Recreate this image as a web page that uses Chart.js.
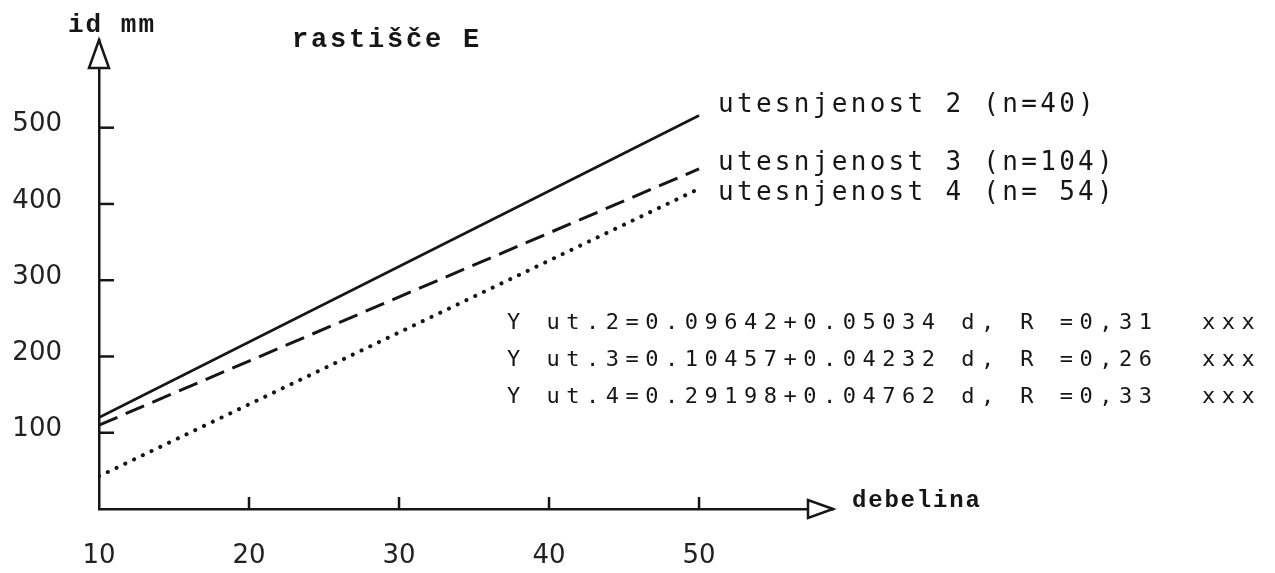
<!DOCTYPE html>
<html>
<head>
<meta charset="utf-8">
<script src="https://cdn.jsdelivr.net/npm/chart.js@4/dist/chart.umd.min.js"></script>
<style>
  html, body { margin: 0; padding: 0; background: #fff; }
</style>
</head>
<body>
<canvas id="chart" width="1275" height="573"></canvas>
<script>
// podatki (odčitani s slike)
const debelina = [10, 50];
const ut2 = [120, 516];
const ut3 = [110, 446];
const ut4 = [43, 420];

const xTicks = [10, 20, 30, 40, 50];
const yTicks = [100, 200, 300, 400, 500];

const legendLabels = ['utesnjenost 2 (n=40)', 'utesnjenost 3 (n=104)', 'utesnjenost 4 (n= 54)'];
const equations = [
    'Y ut.2=0.09642+0.05034 d, R =0,31',
    'Y ut.3=0.10457+0.04232 d, R =0,26',
    'Y ut.4=0.29198+0.04762 d, R =0,33'
];
const signif = ['xxx', 'xxx', 'xxx'];

const INK = '#161616';

function toPoints(ys) {
    return debelina.map((d, i) => ({ x: d, y: ys[i] }));
}

function drawText(ctx, text, x, y, font, spacing) {
    ctx.save();
    ctx.font = font;
    ctx.letterSpacing = spacing + 'px';
    ctx.fillStyle = INK;
    ctx.textAlign = 'left';
    ctx.textBaseline = 'alphabetic';
    ctx.fillText(text, x, y);
    ctx.restore();
}

// puščice, kratke oznake na oseh in besedila
const decorPlugin = {
    id: 'decor',
    afterDraw(chart) {
        const ctx = chart.ctx;
        const xs = chart.scales.x;
        const ys = chart.scales.y;
        const area = chart.chartArea;

        ctx.save();
        ctx.strokeStyle = INK;
        ctx.lineWidth = 2.5;

        // oznake na y osi (navznoter)
        yTicks.forEach(v => {
            const py = ys.getPixelForValue(v);
            ctx.beginPath();
            ctx.moveTo(area.left, py);
            ctx.lineTo(area.left + 15, py);
            ctx.stroke();
        });
        // oznake na x osi
        xTicks.slice(1).forEach(v => {
            const px = xs.getPixelForValue(v);
            ctx.beginPath();
            ctx.moveTo(px, area.bottom);
            ctx.lineTo(px, area.bottom - 12);
            ctx.stroke();
        });

        // puščica y
        ctx.fillStyle = '#fff';
        ctx.beginPath();
        ctx.moveTo(area.left, area.top);
        ctx.lineTo(area.left - 10, area.top + 28);
        ctx.lineTo(area.left + 10, area.top + 28);
        ctx.closePath();
        ctx.fill();
        ctx.stroke();

        // puščica x
        ctx.beginPath();
        ctx.moveTo(area.right, area.bottom);
        ctx.lineTo(area.right - 25, area.bottom - 9);
        ctx.lineTo(area.right - 25, area.bottom + 9);
        ctx.closePath();
        ctx.fill();
        ctx.stroke();
        ctx.restore();

        // besedila
        drawText(ctx, 'id mm', 68, 32, 'bold 26px "Liberation Mono"', 2);
        drawText(ctx, 'rastišče E', 292, 47, 'bold 27px "Liberation Mono"', 2.8);
        drawText(ctx, 'debelina', 852, 507, 'bold 24px "Liberation Mono"', 1.8);

        const legendY = [112, 170, 200];
        legendLabels.forEach((t, i) => {
            drawText(ctx, t, 718, legendY[i], '26px "DejaVu Sans Mono"', 3.3);
        });

        const eqY = [329, 366, 403];
        equations.forEach((t, i) => {
            drawText(ctx, t, 507, eqY[i], '22px "DejaVu Sans Mono"', 6.5);
            drawText(ctx, signif[i], 1202, eqY[i], '22px "DejaVu Sans Mono"', 6.5);
        });
    }
};

const ctx = document.getElementById('chart').getContext('2d');

new Chart(ctx, {
    type: 'line',
    data: {
        datasets: [
            {
                label: legendLabels[0],
                data: toPoints(ut2),
                borderColor: INK,
                borderWidth: 2.6,
                pointRadius: 0,
                fill: false
            },
            {
                label: legendLabels[1],
                data: toPoints(ut3),
                borderColor: INK,
                borderWidth: 3,
                borderDash: [20, 9],
                pointRadius: 0,
                fill: false
            },
            {
                label: legendLabels[2],
                data: toPoints(ut4),
                borderColor: INK,
                borderWidth: 4,
                borderDash: [0.1, 9.6],
                borderCapStyle: 'round',
                pointRadius: 0,
                fill: false
            }
        ]
    },
    options: {
        responsive: false,
        animation: false,
        devicePixelRatio: 1,
        layout: {
            padding: { left: 0, right: 442, top: 40, bottom: 0 }
        },
        plugins: {
            legend: { display: false },
            tooltip: { enabled: false }
        },
        scales: {
            x: {
                type: 'linear',
                min: 10,
                max: 58.93,
                afterBuildTicks: s => { s.ticks = xTicks.map(v => ({ value: v })); },
                afterFit: s => { s.height = 64; s.paddingLeft = 0; s.paddingRight = 0; },
                grid: { display: false, drawTicks: false },
                border: { display: true, color: INK, width: 2.5 },
                ticks: {
                    color: '#222',
                    font: { family: 'DejaVu Sans', size: 26 },
                    padding: 32,
                    maxRotation: 0
                }
            },
            y: {
                type: 'linear',
                min: 0,
                max: 615,
                afterBuildTicks: s => { s.ticks = yTicks.map(v => ({ value: v })); },
                afterFit: s => { s.width = 99; s.paddingTop = 0; s.paddingBottom = 0; },
                grid: { display: false, drawTicks: false },
                border: { display: true, color: INK, width: 2.5 },
                ticks: {
                    color: '#222',
                    font: { family: 'DejaVu Sans', size: 26 },
                    padding: 37,
                    labelOffset: -3
                }
            }
        }
    },
    plugins: [decorPlugin]
});
</script>
</body>
</html>
